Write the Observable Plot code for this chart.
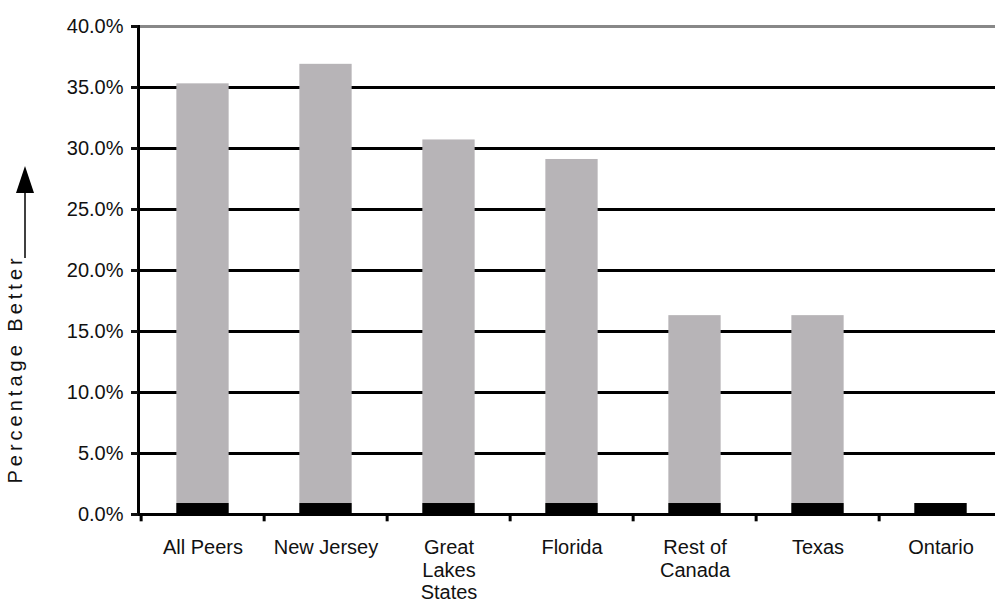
<!DOCTYPE html>
<html>
<head>
<meta charset="utf-8">
<script src="https://cdn.jsdelivr.net/npm/d3@7"></script>
<script src="https://cdn.jsdelivr.net/npm/@observablehq/plot@0.6"></script>
<style>
  html, body { margin: 0; padding: 0; background: #fff; overflow: hidden; }
  #chart svg { display: block; overflow: hidden; }
</style>
</head>
<body>
<div id="chart"></div>
<script>
// Peer groups along the x axis, with their multi-line tick labels
const categories = ["All Peers", "New Jersey", "Great Lakes States", "Florida", "Rest of Canada", "Texas", "Ontario"];
const tickLabels = ["All Peers", "New Jersey", "Great\nLakes\nStates", "Florida", "Rest of\nCanada", "Texas", "Ontario"];

// Percentage better than Ontario (gray bar) and the common base segment (black)
const totals = [35.3, 36.9, 30.7, 29.1, 16.3, 16.3, 0.9];
const base = [0.9, 0.9, 0.9, 0.9, 0.9, 0.9, 0.9];

// Y axis ticks, in percent
const yTicks = [0, 5, 10, 15, 20, 25, 30, 35, 40];

const rows = categories.map((c, i) => ({category: c, total: totals[i], base: base[i]}));
const labelOf = new Map(categories.map((c, i) => [c, tickLabels[i]]));

// The category band runs a little past the right edge of the page
const W = 995, H = 610, mL = 138, mT = 26, mB = 96, xEnd = 1004;
const step = (xEnd - mL) / categories.length;
const barInset = (step - 53) / 2;

const chart = Plot.plot({
  width: W,
  height: H,
  marginLeft: mL,
  marginRight: 0,
  marginTop: mT,
  marginBottom: mB,
  style: {
    fontFamily: "'Liberation Sans', Arial, sans-serif",
    fontSize: "20px",
    color: "#111",
    background: "#fff",
    maxWidth: "none"
  },
  x: {domain: categories, range: [mL, xEnd], padding: 0, axis: null},
  y: {domain: [0, 40], axis: null},
  marks: [
    // horizontal gridlines (top one lighter)
    Plot.ruleY(yTicks.filter(v => v > 0 && v < 40), {stroke: "#000", strokeWidth: 3}),
    Plot.ruleY([40], {stroke: "#888", strokeWidth: 3}),
    // bars
    Plot.barY(rows, {x: "category", y: "total", fill: "#b7b4b7", insetLeft: barInset, insetRight: barInset}),
    Plot.barY(rows, {x: "category", y: "base", fill: "#000", insetLeft: barInset, insetRight: barInset}),
    // baseline and y axis line
    Plot.ruleY([0], {stroke: "#000", strokeWidth: 3}),
    Plot.frame({anchor: "left", stroke: "#000", strokeWidth: 3}),
    // tick marks between categories, hanging below the baseline
    Plot.ruleX(categories, {x: d => d, dx: -step / 2, y1: 0, y2: -0.6, stroke: "#000", strokeWidth: 3}),
    Plot.axisY({
      ticks: yTicks,
      tickSize: 7,
      tickPadding: 8,
      strokeWidth: 3,
      fontSize: 20,
      tickFormat: d => d.toFixed(1) + "%",
      label: null
    }),
    Plot.axisX({
      tickSize: 0,
      tickPadding: 24,
      fontSize: 20,
      tickFormat: d => labelOf.get(d),
      lineHeight: 1.12,
      label: null
    }),
    // y axis title, rotated
    Plot.text(["Percentage Better"], {
      frameAnchor: "bottom-left",
      dx: -117,
      dy: -31,
      rotate: -90,
      textAnchor: "start",
      fontSize: 20,
      fill: "#111"
    })
  ]
});

// upward arrow continuing the y axis title
const svg = d3.select(chart);
svg.selectAll("text").filter(function () { return this.textContent === "Percentage Better"; })
  .style("letter-spacing", "4px");
const arrow = svg.append("g").attr("fill", "#000").attr("stroke", "#000");
arrow.append("line").attr("x1", 25).attr("x2", 25).attr("y1", 258).attr("y2", 190).attr("stroke-width", 1.5);
arrow.append("path").attr("d", "M25,166L16,193L34,193Z").attr("stroke", "none");

document.getElementById("chart").appendChild(chart);
</script>
</body>
</html>
